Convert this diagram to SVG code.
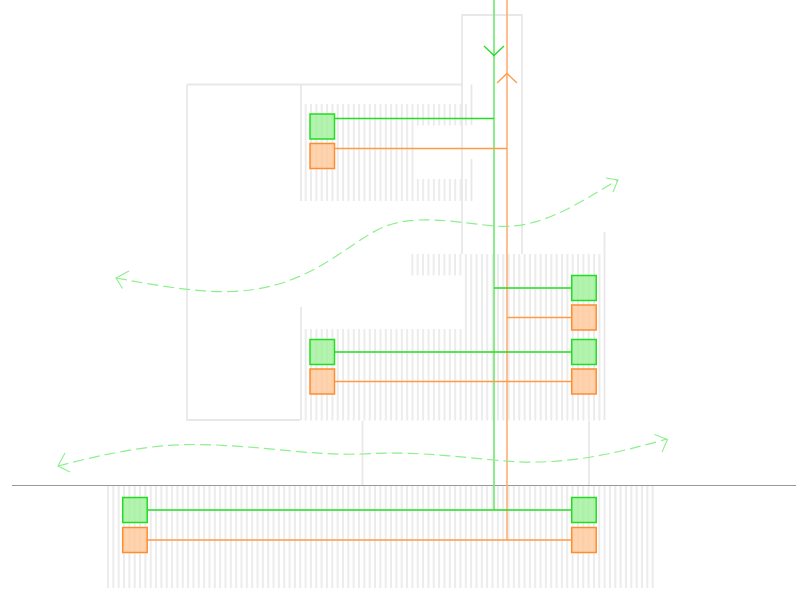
<svg xmlns="http://www.w3.org/2000/svg" width="796" height="603" viewBox="0 0 796 603">
<style>
.w{fill:none;stroke:#e8e8e8;stroke-width:1.8}
.h{fill:none;stroke:#ececec;stroke-dasharray:2 3.34}
.g{fill:#9ff09a;fill-opacity:.8;stroke:#22dd22;stroke-width:1.5}
.o{fill:#ffc89a;fill-opacity:.8;stroke:#ff8c2e;stroke-width:1.5}
.gl{fill:none;stroke:#22dd22;stroke-width:1.3}
.ol{fill:none;stroke:#ff9a45;stroke-width:1.3}
.gt{fill:none;stroke:#6fe86f;stroke-width:1.6}
.ot{fill:none;stroke:#ffae70;stroke-width:1.6}
.f{fill:none;stroke:#8cf08c;stroke-width:1.2;stroke-dasharray:11 5}
.fa{fill:none;stroke:#8cf08c;stroke-width:1.1}
</style>
<rect width="796" height="603" fill="#fff"/>
<g id="hatching">
<path class="h" stroke-width="97" d="M304.700 152.500H413.500"/>
<path class="h" stroke-width="21.500" d="M416.840 114.750H468"/>
<path class="h" stroke-width="22" d="M416.840 190H468"/>
<path class="h" stroke-width="21.500" d="M411.300 264.750H462"/>
<path class="h" stroke-width="75" d="M464.900 291.500H601"/>
<path class="h" stroke-width="91.500" d="M304.700 374.750H464"/>
<path class="h" stroke-width="91.500" d="M464.900 374.750H601"/>
<path class="h" stroke-width="102" d="M107 537H654"/>
</g>
<g id="building">
<path class="w" d="M462 254V15H522V254M187 84.500H462M187 84.500V420H300M301 84.500V201M301 307V420M471.500 84.500V125M471.500 159V201M604.500 232V420M362.500 421V485M589 421V485"/>
</g>
<path id="ground" d="M12 485.500H796" fill="none" stroke="#999" stroke-width="1.2"/>
<g id="connectors">
<path class="gt" d="M494 0V510"/>
<path class="ot" d="M507 0V540"/>
<path class="gl" d="M334 118.500H494M494 288H572M334 352H572M147 510H572"/>
<path class="ol" d="M334 148.500H507M507 317.500H572M334 381.500H572M147 540H572"/>
<path class="gl" d="M484 46L494 55.500L504 46"/>
<path class="ol" d="M497 83L507 73.500L517 83"/>
<path class="f" d="M116 278C150 284 195 293 232 291.500C300 289 335 255 370 234C405 212 445 221 494 226C540 230 575 205 618 180"/>
<path class="fa" d="M129 271L116 278L122.500 288.500"/>
<path class="fa" d="M606 178L618 180L613 192"/>
<path class="f" d="M58 466C100 455 150 444 195 444.500C260 445 310 456 362 454C410 451 450 456 494 460C560 467 610 455 667 439"/>
<path class="fa" d="M65 453L58 466L70 472"/>
<path class="fa" d="M654.500 434.500L667.500 439.500L662 452"/>
</g>
<g id="n1"><rect class="g" x="310" y="114" width="24.500" height="25"/></g>
<g id="n2"><rect class="o" x="310" y="143.500" width="24.500" height="25"/></g>
<g id="n3"><rect class="g" x="571.700" y="275.500" width="24.500" height="25"/></g>
<g id="n4"><rect class="o" x="571.700" y="305" width="24.500" height="25"/></g>
<g id="n5"><rect class="g" x="310" y="339.500" width="24.500" height="25"/></g>
<g id="n6"><rect class="o" x="310" y="369" width="24.500" height="25"/></g>
<g id="n7"><rect class="g" x="571.700" y="339.500" width="24.500" height="25"/></g>
<g id="n8"><rect class="o" x="571.700" y="369" width="24.500" height="25"/></g>
<g id="n9"><rect class="g" x="122.700" y="497.500" width="24.500" height="25"/></g>
<g id="n10"><rect class="o" x="122.700" y="527.500" width="24.500" height="25"/></g>
<g id="n11"><rect class="g" x="571.700" y="497.500" width="24.500" height="25"/></g>
<g id="n12"><rect class="o" x="571.700" y="527.500" width="24.500" height="25"/></g>
</svg>
